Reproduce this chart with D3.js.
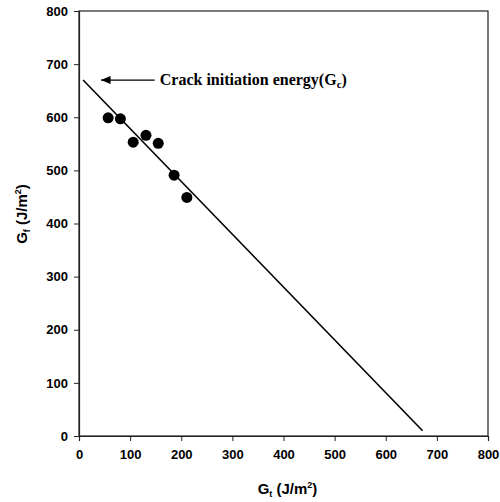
<!DOCTYPE html>
<html>
<head>
<meta charset="utf-8">
<script src="https://cdn.jsdelivr.net/npm/d3@7"></script>
<style>
  body { margin: 0; background: #fff; }
  .tick text { font-family: Arial, "Liberation Sans", sans-serif; font-weight: bold; font-size: 13px; fill: #000; }
</style>
</head>
<body>
<div id="chart"></div>
<script>
// measured points (Gt, Gf)
let gtValues = [57, 81, 106, 131, 155, 186, 211];
let gfValues = [599, 597, 553, 566, 551, 491, 449];
// fitted line end points
let fitX = [8, 672];
let fitY = [670, 10];
let xTicks = [0, 100, 200, 300, 400, 500, 600, 700, 800];
let yTicks = [0, 100, 200, 300, 400, 500, 600, 700, 800];
// arrow annotation
let arrowX = [43, 148];
let arrowY = [670, 670];

let width = 500,
    height = 502,
    margin = { left: 79, right: 12, top: 11, bottom: 66 };

let svg = d3.select('#chart')
    .append('svg')
    .attr('width', width)
    .attr('height', height);

let x = d3.scaleLinear().domain([0, 800]).range([margin.left, width - margin.right]);
let y = d3.scaleLinear().domain([0, 800]).range([height - margin.bottom, margin.top]);

// frame
svg.append('rect')
    .attr('x', x(0))
    .attr('y', y(800))
    .attr('width', x(800) - x(0))
    .attr('height', y(0) - y(800))
    .attr('fill', 'none')
    .attr('stroke', '#222')
    .attr('stroke-width', 1.2);

let xAxis = d3.axisBottom(x).tickValues(xTicks).tickSize(5).tickPadding(9);
let yAxis = d3.axisLeft(y).tickValues(yTicks).tickSize(5).tickPadding(6);

let gx = svg.append('g')
    .attr('transform', 'translate(0,' + y(0) + ')')
    .call(xAxis);
let gy = svg.append('g')
    .attr('transform', 'translate(' + x(0) + ',0)')
    .call(yAxis);
[gx, gy].forEach(function(g) {
    g.select('.domain').attr('stroke', '#222').attr('stroke-width', 1.2);
    g.selectAll('.tick line').attr('stroke', '#222');
});

// fit line
let line = d3.line()
    .x(function(d) { return x(d[0]); })
    .y(function(d) { return y(d[1]); });

svg.append('path')
    .datum(d3.zip(fitX, fitY))
    .attr('d', line)
    .attr('stroke', '#000')
    .attr('stroke-width', 1.6)
    .attr('fill', 'none');

// points
svg.selectAll('circle.pt')
    .data(d3.zip(gtValues, gfValues))
    .enter()
    .append('circle')
    .attr('class', 'pt')
    .attr('cx', function(d) { return x(d[0]); })
    .attr('cy', function(d) { return y(d[1]); })
    .attr('r', 5.5)
    .attr('fill', '#000');

// arrow
svg.append('defs').append('marker')
    .attr('id', 'head')
    .attr('viewBox', '0 0 12 10')
    .attr('refX', 0)
    .attr('refY', 5)
    .attr('markerWidth', 12)
    .attr('markerHeight', 8)
    .attr('markerUnits', 'userSpaceOnUse')
    .attr('orient', 'auto')
    .append('path')
    .attr('d', 'M0,5 L12,0 L12,10 Z')
    .attr('fill', '#000');

svg.append('path')
    .datum(d3.zip(arrowX, arrowY))
    .attr('d', line)
    .attr('stroke', '#000')
    .attr('stroke-width', 1.3)
    .attr('fill', 'none')
    .attr('marker-start', 'url(#head)');

let ann = svg.append('text')
    .attr('x', x(158))
    .attr('y', y(670) + 5)
    .attr('font-family', '"Liberation Serif", "Times New Roman", serif')
    .attr('font-weight', 'bold')
    .attr('font-size', 16)
    .attr('fill', '#000');
ann.append('tspan').text('Crack initiation energy(G');
ann.append('tspan').attr('font-size', 11).attr('dy', 3).text('c');
ann.append('tspan').attr('dy', -3).text(')');

// axis labels
let xl = svg.append('text')
    .attr('x', (x(0) + x(800)) / 2 + 4)
    .attr('y', 494)
    .attr('text-anchor', 'middle')
    .attr('font-family', 'Arial, "Liberation Sans", sans-serif')
    .attr('font-weight', 'bold')
    .attr('font-size', 15)
    .attr('fill', '#000');
xl.append('tspan').text('G');
xl.append('tspan').attr('font-size', 9).attr('dy', 3).text('t');
xl.append('tspan').attr('dy', -3).text(' (J/m');
xl.append('tspan').attr('font-size', 9).attr('dy', -6).text('2');
xl.append('tspan').attr('dy', 6).text(')');

let yl = svg.append('text')
    .attr('transform', 'translate(27,' + 214 + ') rotate(-90)')
    .attr('text-anchor', 'middle')
    .attr('font-family', 'Arial, "Liberation Sans", sans-serif')
    .attr('font-weight', 'bold')
    .attr('font-size', 15)
    .attr('fill', '#000');
yl.append('tspan').text('G');
yl.append('tspan').attr('font-size', 9).attr('dy', 3).text('f');
yl.append('tspan').attr('dy', -3).text(' (J/m');
yl.append('tspan').attr('font-size', 9).attr('dy', -6).text('2');
yl.append('tspan').attr('dy', 6).text(')');
</script>
</body>
</html>
